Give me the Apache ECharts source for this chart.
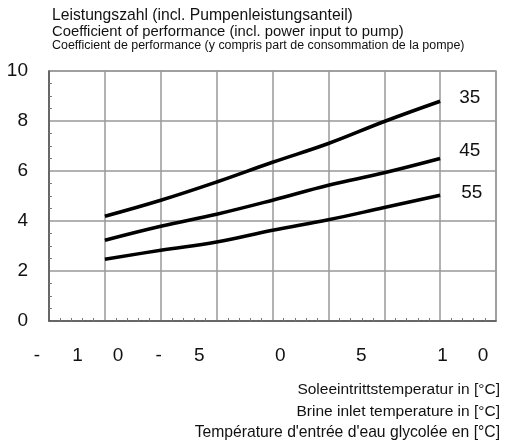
<!DOCTYPE html>
<html>
<head>
<meta charset="utf-8">
<script src="https://cdn.jsdelivr.net/npm/echarts@6/dist/echarts.min.js"></script>
<style>html,body{margin:0;padding:0;background:#fff}#c{width:510px;height:440px}</style>
</head>
<body>
<div id="c"></div>
<script>
// Brine inlet temperature (°C) at which the curves are read
var brineTemps = [-5, 0, 5, 10, 15, 20, 25];
// Flow temperature curves (names shown at curve ends)
var seriesNames = ['35', '45', '55'];
var cop35 = [4.19, 4.83, 5.56, 6.35, 7.10, 7.98, 8.79];
var cop45 = [3.23, 3.79, 4.27, 4.83, 5.43, 5.93, 6.50];
var cop55 = [2.47, 2.83, 3.16, 3.63, 4.05, 4.54, 5.03];
// x tick label characters, as printed (spread out) in the original
var xTickChars = ['-', '1', '0', '-', '5', '', '0', '', '5', '', '1', '0'];
var yTitleLines = [
  'Leistungszahl (incl. Pumpenleistungsanteil)',
  'Coefficient of performance (incl. power input to pump)',
  'Coefficient de performance (y compris part de consommation de la pompe)'
];
var xTitleLines = [
  'Soleeintrittstemperatur in [°C]',
  'Brine inlet temperature in [°C]',
  'Température d\'entrée d\'eau glycolée en [°C]'
];

var FONT = '"Liberation Sans", Arial, sans-serif';
var chart = echarts.init(document.getElementById('c'), null, {renderer: 'canvas'});

function pairs(vals) { return brineTemps.map(function (t, i) { return [t, vals[i]]; }); }

var endOffsets = [[0, -3], [0, -8], [2, -2]];
var allVals = [cop35, cop45, cop55];

var series = seriesNames.map(function (n, i) {
  return {
    name: n, type: 'line', xAxisIndex: 0, yAxisIndex: 0,
    data: pairs(allVals[i]), smooth: 0.4, symbol: 'none',
    lineStyle: {color: '#000', width: 3.5},
    endLabel: {show: true, formatter: '{a}', fontFamily: FONT, fontSize: 19, color: '#111',
      distance: 19, offset: endOffsets[i]},
    z: 5
  };
});

function tStyle(size, fam) {
  return {fontFamily: fam || FONT, fontSize: size, fontWeight: 'normal', color: '#111'};
}

var option = {
  animation: false,
  backgroundColor: '#fff',
  title: [
    {text: yTitleLines[0], left: 47, top: 3, padding: 5, textStyle: tStyle(15.7)},
    {text: yTitleLines[1], left: 47, top: 19, padding: 5, textStyle: tStyle(14.8)},
    {text: yTitleLines[2], left: 47, top: 35, padding: 5, textStyle: tStyle(12.45)},
    {text: xTitleLines[0], right: 5, top: 377, padding: 5, textStyle: tStyle(15.5)},
    {text: xTitleLines[1], right: 5, top: 399, padding: 5, textStyle: tStyle(15.5)},
    {text: xTitleLines[2], right: 5, top: 420, padding: 5, textStyle: tStyle(15.7)}
  ],
  grid: [
    {left: 49, right: 14, top: 71, bottom: 119, show: true, borderColor: '#999', borderWidth: 1.5, backgroundColor: 'transparent'},
    {left: 16.75, right: 6.75, top: 71, bottom: 119, show: false}
  ],
  xAxis: [
    {
      type: 'value', gridIndex: 0, min: -10, max: 30, interval: 5,
      axisLine: {show: true, onZero: false, lineStyle: {color: '#555', width: 1.5}},
      axisTick: {show: false},
      minorTick: {show: true, splitNumber: 5, length: -3, lineStyle: {color: '#777', width: 1}},
      axisLabel: {show: false},
      splitLine: {show: true, lineStyle: {color: '#999', width: 1.5}}
    },
    {
      type: 'category', gridIndex: 1, data: xTickChars, boundaryGap: true,
      axisLine: {show: false}, axisTick: {show: false}, splitLine: {show: false},
      axisLabel: {interval: 0, margin: 25, fontFamily: FONT, fontSize: 19, color: '#111'}
    }
  ],
  yAxis: [
    {
      type: 'value', gridIndex: 0, min: 0, max: 10, interval: 2,
      axisLine: {show: true, onZero: false, lineStyle: {color: '#555', width: 1.5}},
      axisTick: {show: false},
      minorTick: {show: true, splitNumber: 4, length: -3, lineStyle: {color: '#777', width: 1}},
      axisLabel: {margin: 21, fontFamily: FONT, fontSize: 19, color: '#111'},
      splitLine: {show: true, lineStyle: {color: '#999', width: 1.5}}
    },
    {
      type: 'value', gridIndex: 1, show: false
    }
  ],
  series: series
};
chart.setOption(option);
</script>
</body>
</html>
